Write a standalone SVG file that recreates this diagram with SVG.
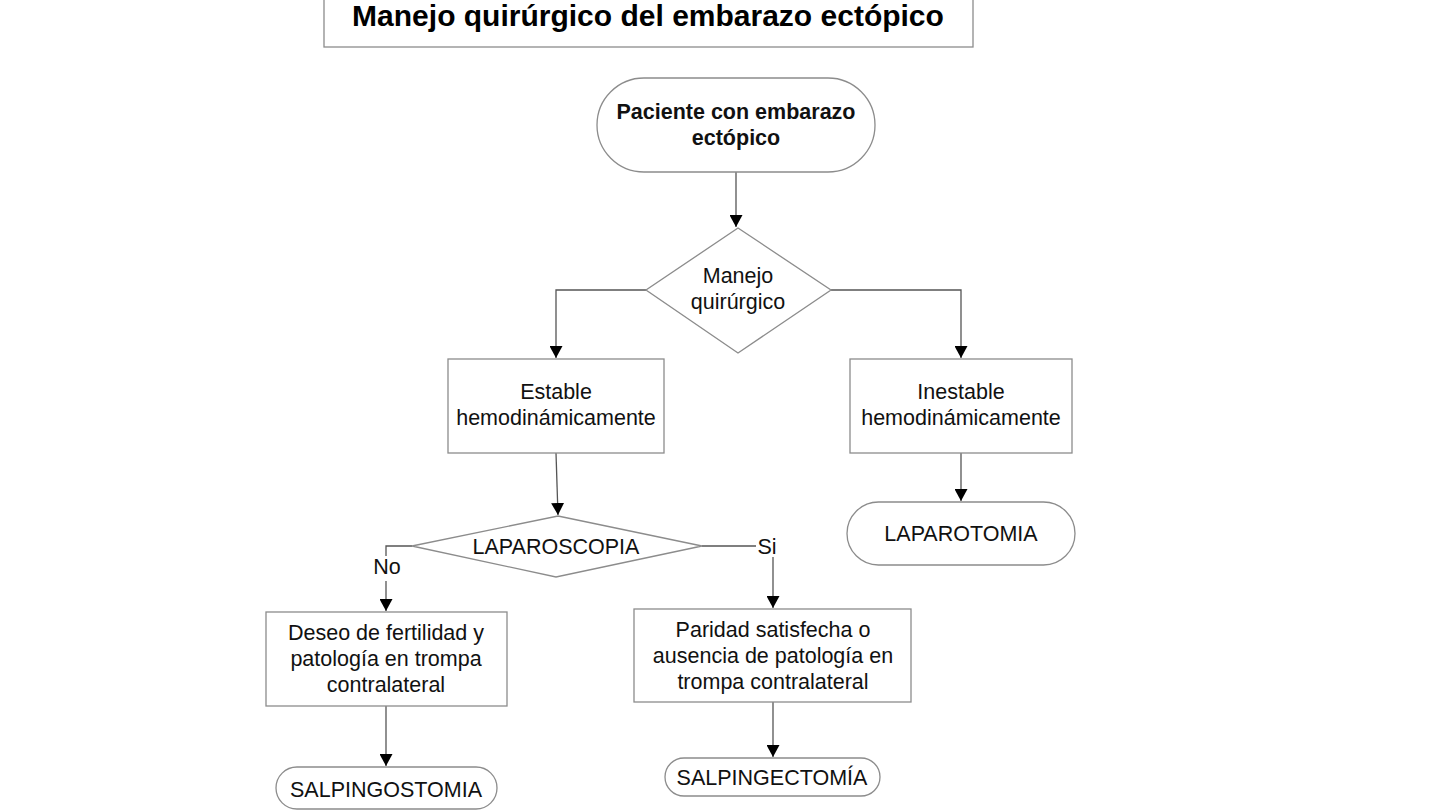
<svg xmlns="http://www.w3.org/2000/svg" width="1440" height="810" viewBox="0 0 1440 810">
<defs>
<marker id="arr" markerUnits="userSpaceOnUse" markerWidth="12" markerHeight="13" refX="12" refY="6.5" orient="auto">
<path d="M0,0 L12,6.5 L0,13 z" fill="#000"/>
</marker>
</defs>
<style>
.shape{fill:#fff;stroke:#8c8c8c;stroke-width:1.3}
.conn{fill:none;stroke:#555;stroke-width:1.3}
.t{font-family:"Liberation Sans",Arial,sans-serif;font-size:21.5px;fill:#111;text-anchor:middle}
.b{font-weight:bold}
.title{font-family:"Liberation Sans",Arial,sans-serif;font-size:30px;font-weight:bold;fill:#000;text-anchor:middle}
</style>
<rect width="1440" height="810" fill="#fff"/>
<g id="title">
<rect class="shape" x="324" y="-2" width="649" height="49"/>
<text class="title" x="648" y="26">Manejo quirúrgico del embarazo ectópico</text>
</g>
<g id="connectors">
<path class="conn" d="M736,172 V227" marker-end="url(#arr)"/>
<path class="conn" d="M646,290 H556 V358" marker-end="url(#arr)"/>
<path class="conn" d="M831,290 H961 V358" marker-end="url(#arr)"/>
<path class="conn" d="M961,453 V501" marker-end="url(#arr)"/>
<path class="conn" d="M556,453 L558,515" marker-end="url(#arr)"/>
<path class="conn" d="M412,546 H386 V556"/>
<path class="conn" d="M386,581 V611" marker-end="url(#arr)"/>
<path class="conn" d="M702,546 H756"/>
<path class="conn" d="M773,557 V608" marker-end="url(#arr)"/>
<path class="conn" d="M386,706 V766" marker-end="url(#arr)"/>
<path class="conn" d="M773,702 V757" marker-end="url(#arr)"/>
<text class="t" x="387" y="574">No</text>
<text class="t" x="767" y="554">Si</text>
</g>
<g id="start">
<rect class="shape" x="597" y="78" width="278" height="94" rx="47"/>
<text class="t b" x="736" y="119">Paciente con embarazo</text>
<text class="t b" x="736" y="145">ectópico</text>
</g>
<g id="decision-manejo">
<polygon class="shape" points="738,228 831,290 738,353 646,290"/>
<text class="t" x="738" y="283">Manejo</text>
<text class="t" x="738" y="309">quirúrgico</text>
</g>
<g id="estable">
<rect class="shape" x="448" y="359" width="216" height="94"/>
<text class="t" x="556" y="399">Estable</text>
<text class="t" x="556" y="425">hemodinámicamente</text>
</g>
<g id="inestable">
<rect class="shape" x="850" y="359" width="222" height="94"/>
<text class="t" x="961" y="399">Inestable</text>
<text class="t" x="961" y="425">hemodinámicamente</text>
</g>
<g id="laparotomia">
<rect class="shape" x="847" y="502" width="228" height="63" rx="31.5"/>
<text class="t" x="961" y="541">LAPAROTOMIA</text>
</g>
<g id="decision-laparoscopia">
<polygon class="shape" points="558,516 702,546 556,577 412,546"/>
<text class="t" x="556" y="554">LAPAROSCOPIA</text>
</g>
<g id="deseo">
<rect class="shape" x="266" y="612" width="241" height="94"/>
<text class="t" x="386" y="640">Deseo de fertilidad y</text>
<text class="t" x="386" y="666">patología en trompa</text>
<text class="t" x="386" y="692">contralateral</text>
</g>
<g id="paridad">
<rect class="shape" x="634" y="609" width="277" height="93"/>
<text class="t" x="773" y="637">Paridad satisfecha o</text>
<text class="t" x="773" y="663">ausencia de patología en</text>
<text class="t" x="773" y="689">trompa contralateral</text>
</g>
<g id="salpingostomia">
<rect class="shape" x="276" y="767" width="221" height="42" rx="21"/>
<text class="t" x="386" y="797">SALPINGOSTOMIA</text>
</g>
<g id="salpingectomia">
<rect class="shape" x="665" y="758" width="215" height="38" rx="19"/>
<text class="t" x="772" y="785">SALPINGECTOMÍA</text>
</g>
</svg>
